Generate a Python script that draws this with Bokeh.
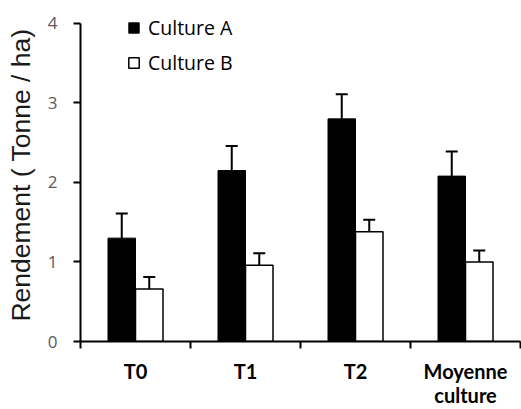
from bokeh.plotting import figure
from bokeh.models import (ColumnDataSource, Range1d, FixedTicker, Whisker, TeeHead,
                          Legend, LegendItem)
from bokeh.embed import file_html
from bokeh.resources import INLINE

categories = ["T0", "T1", "T2", "Moyenne\nculture"]
culture_a = [1.30, 2.15, 2.80, 2.08]
culture_a_err = [0.31, 0.31, 0.31, 0.31]
culture_b = [0.66, 0.96, 1.38, 1.00]
culture_b_err = [0.15, 0.15, 0.15, 0.145]
y_ticks = [0, 1, 2, 3, 4]

centers = [i + 0.5 for i in range(len(categories))]
bw = 0.25
src_a = ColumnDataSource(dict(x=[c - bw / 2 for c in centers], top=culture_a,
                              lo=[v - e for v, e in zip(culture_a, culture_a_err)],
                              hi=[v + e for v, e in zip(culture_a, culture_a_err)]))
src_b = ColumnDataSource(dict(x=[c + bw / 2 for c in centers], top=culture_b,
                              lo=[v - e for v, e in zip(culture_b, culture_b_err)],
                              hi=[v + e for v, e in zip(culture_b, culture_b_err)]))

y_max = y_ticks[-1]
# frame extends a little above the axis top so the legend is not clipped
p = figure(width=521, height=409, output_backend="svg", toolbar_location=None,
           x_range=Range1d(0, len(categories)), y_range=Range1d(0, y_max * 334 / 319),
           min_border_left=80, min_border_right=1, min_border_top=8, min_border_bottom=67)
p.outline_line_color = None
p.xgrid.visible = False
p.ygrid.visible = False

ra = p.vbar(x="x", top="top", width=bw, bottom=0, source=src_a,
            fill_color="black", line_color="black", line_width=1)
rb = p.vbar(x="x", top="top", width=bw, bottom=0, source=src_b,
            fill_color="white", line_color="black", line_width=1.5)

for src in (src_a, src_b):
    w = Whisker(base="x", upper="hi", lower="lo", source=src, line_width=2, line_color="black",
                upper_head=TeeHead(size=12, line_width=2, line_color="black"),
                lower_head=TeeHead(size=12, line_width=2, line_color="black"))
    p.add_layout(w)

# x axis: ticks between categories (minor), labels at category centres (major)
xa = p.xaxis[0]
xa.ticker = FixedTicker(ticks=centers, minor_ticks=list(range(len(categories) + 1)))
xa.major_label_overrides = {c: lab for c, lab in zip(centers, categories)}
xa.major_tick_line_color = None
xa.major_tick_out = 0
xa.major_tick_in = 0
xa.minor_tick_line_color = "black"
xa.minor_tick_line_width = 2
xa.minor_tick_out = 7
xa.minor_tick_in = 0
xa.axis_line_color = "black"
xa.axis_line_width = 2
xa.major_label_text_font = "Lato"
xa.major_label_text_font_style = "bold"
xa.major_label_text_font_size = "20px"
xa.major_label_text_color = "black"
xa.major_label_text_line_height = 1.0
xa.major_label_standoff = 10

# y axis
ya = p.yaxis[0]
ya.bounds = (0, y_max)
ya.ticker = FixedTicker(ticks=y_ticks, minor_ticks=[])
ya.axis_line_color = "black"
ya.axis_line_width = 2
ya.major_tick_line_color = "black"
ya.major_tick_line_width = 2
ya.major_tick_out = 7
ya.major_tick_in = 0
ya.major_label_text_font = "Open Sans"
ya.major_label_text_font_size = "17px"
ya.major_label_text_color = "#595959"
ya.major_label_standoff = 16
ya.axis_label = "Rendement ( Tonne / ha)"
ya.axis_label_text_font = "Liberation Sans"
ya.axis_label_text_font_style = "normal"
ya.axis_label_text_font_size = "26.5px"
ya.axis_label_text_color = "#1a1a1a"
ya.axis_label_standoff = 9

legend = Legend(items=[LegendItem(label="Culture A", renderers=[ra]),
                       LegendItem(label="Culture B", renderers=[rb])],
                location=(47, 265), padding=0, margin=0, spacing=8,
                glyph_width=13, glyph_height=13, label_height=20, label_standoff=8,
                label_text_font="Open Sans", label_text_font_size="19.5px",
                label_text_color="black", border_line_color=None,
                background_fill_alpha=0)
p.add_layout(legend)

open("out.html", "w").write(file_html(p, INLINE))
